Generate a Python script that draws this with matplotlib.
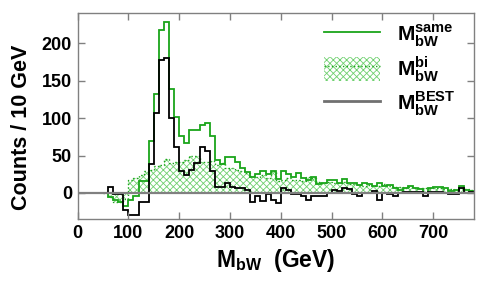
import numpy as np
import matplotlib
matplotlib.use("Agg")
import matplotlib.pyplot as plt
from matplotlib.patches import Patch
from matplotlib.lines import Line2D

plt.rcParams["font.family"] = ["Liberation Sans", "DejaVu Sans"]
plt.rcParams["font.weight"] = "bold"
plt.rcParams["mathtext.fontset"] = "custom"
plt.rcParams["mathtext.rm"] = "Liberation Sans:bold"
plt.rcParams["mathtext.bf"] = "Liberation Sans:bold"
plt.rcParams["hatch.linewidth"] = 0.6

# 10 GeV bins from 50 to 780 GeV
edges = np.arange(50, 790, 10)

m_best = [0, 8, -2, -2, -23, -29, -29, -12, -12, 39,
          107, 178, 181, 100, 62, 30, 24, 31, 40, 61,
          56, 30, 8, 8, 14, 8, 6, 6, 4, -12,
          -4, -11, -1, -9, -13, 7, 4, -1, -2, -4,
          -9, -4, -4, -4, 0, 4, 3, 7, 5, -2,
          -4, 0, 0, 2, -10, 0, -1, -4, 0, 1,
          1, 1, 1, -4, 1, 1, 1, 0, -2, -2,
          7, 0, 1]

m_same = [0, -5, -10, -12, -17, -9, -4, 16, 16, 69,
          132, 218, 228, 139, 102, 76, 67, 84, 84, 91,
          94, 76, 44, 39, 48, 48, 42, 33, 28, 22,
          25, 29, 25, 29, 19, 30, 26, 22, 27, 20,
          18, 22, 12, 13, 18, 18, 13, 19, 13, 14,
          11, 14, 12, 9, 14, 9, 11, 7, 4, 7,
          9, 6, 5, 0, 6, 8, 8, 6, 3, 4,
          9, 4, 3]

m_bi = [0, -5, -12, -12, -8, 18, 20, 24, 30, 31,
        36, 38, 45, 40, 41, 42, 44, 49, 49, 41,
        42, 43, 38, 40, 33, 33, 31, 29, 27, 23,
        22, 24, 20, 30, 16, 18, 20, 17, 17, 16,
        22, 20, 15, 14, 15, 14, 13, 15, 12, 12,
        11, 10, 11, 10, 9, 12, 9, 8, 8, 7,
        8, 7, 6, 6, 6, 7, 6, 5, 5, 4,
        6, 5, 4]

green = "#1aa51a"
light_green = "#6fd06f"

fig, ax = plt.subplots(figsize=(4.85, 2.81), dpi=100)
fig.subplots_adjust(left=0.16, right=0.977, bottom=0.22, top=0.955)

ax.stairs(m_bi, edges, baseline=0, fill=True, facecolor="none",
          edgecolor=light_green, hatch="xxxxx", linewidth=0)
ax.stairs(m_bi, edges, baseline=None, color=green, linestyle=":", linewidth=1.0)
ax.axhline(0, color="#808080", linewidth=1.6, zorder=1.5)
ax.stairs(m_same, edges, baseline=None, color=green, linewidth=1.3)
ax.stairs(m_best, edges, baseline=None, color="black", linewidth=1.3)

ax.set_xlim(0, 780)
ax.set_ylim(-35, 241)
ax.set_xticks(np.arange(0, 800, 100))
ax.set_yticks([0, 50, 100, 150, 200])
ax.tick_params(direction="in", length=5, width=1, color="#808080",
               top=True, right=True, labelsize=13, pad=4)
for lab in ax.get_xticklabels() + ax.get_yticklabels():
    lab.set_fontweight("bold")
for s in ax.spines.values():
    s.set_color("#808080")
    s.set_linewidth(1)

ax.set_xlabel(r"$\mathbf{M}_{\mathbf{bW}}$  (GeV)", fontsize=16.5, fontweight="bold")
ax.set_ylabel("Counts / 10 GeV", fontsize=15.5, fontweight="bold")
ax.yaxis.set_label_coords(-0.115, 0.445)

handles = [
    Line2D([], [], color=green, linewidth=1.3),
    (Patch(facecolor="none", edgecolor=light_green, hatch="xxxxx", linewidth=0),
     Line2D([], [], color=green, linestyle=":", linewidth=1.0)),
    Line2D([], [], color="#707070", linewidth=2),
]
labels = [r"$\mathbf{M}^{\mathbf{same}}_{\mathbf{bW}}$",
          r"$\mathbf{M}^{\mathbf{bi}}_{\mathbf{bW}}$",
          r"$\mathbf{M}^{\mathbf{BEST}}_{\mathbf{bW}}$"]
ax.legend(handles, labels, loc="upper right", bbox_to_anchor=(1.0, 1.045),
          frameon=False, fontsize=15, handlelength=2.7, handleheight=1.4,
          handletextpad=0.8, labelspacing=0.25)

fig.savefig("out.png", dpi=100)
